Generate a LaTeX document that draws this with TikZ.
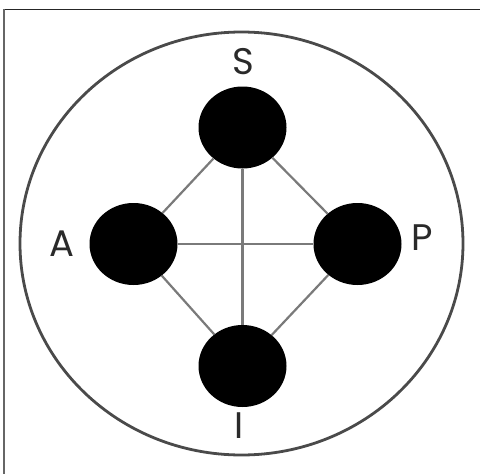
\documentclass[tikz,border=0pt]{standalone}
\usepackage{fontspec}
\setmainfont{Poppins}
\usetikzlibrary{shapes.geometric}
\definecolor{linegray}{HTML}{7A7A7A}
\definecolor{ringgray}{HTML}{4A4A4A}
\definecolor{labelgray}{HTML}{2A2A2A}
\tikzset{
  dot/.style={ellipse, fill=black, draw=none, minimum width=88pt, minimum height=82pt, inner sep=0pt},
  link/.style={draw=linegray, line width=2.2pt},
  lbl/.style={text=labelgray, font=\fontsize{37}{37}\selectfont, inner sep=0pt},
}
\begin{document}
\begin{tikzpicture}[x=1pt,y=-1pt]
\useasboundingbox (0,0) rectangle (480,474);
\fill[white] (0,0) rectangle (480,474);
\draw[draw=black!85, line width=1pt] (480,9.3) -- (4,9.3);
\draw[draw=black!60, line width=1.3pt] (4,9.3) -- (4,474);
\draw[draw=ringgray, line width=2.8pt] (241.5,243.5) ellipse [x radius=221.5, y radius=211.5];
\node[dot] (S) at (242.5,127.5) {};
\node[dot] (A) at (133.5,244) {};
\node[dot] (P) at (357.5,244) {};
\node[dot] (I) at (242.5,366) {};
\draw[link] (S) -- (A);
\draw[link] (S) -- (P);
\draw[link] (A) -- (I);
\draw[link] (P) -- (I);
\draw[link] (S) -- (I);
\draw[link] (A) -- (P);
\node[lbl] (lS) at (243,61.5) {S};
\node[lbl] (lA) at (62,244) {A};
\node[lbl] (lP) at (422,238) {P};
\node[lbl] (lI) at (239,426) {I};
\end{tikzpicture}
\end{document}
